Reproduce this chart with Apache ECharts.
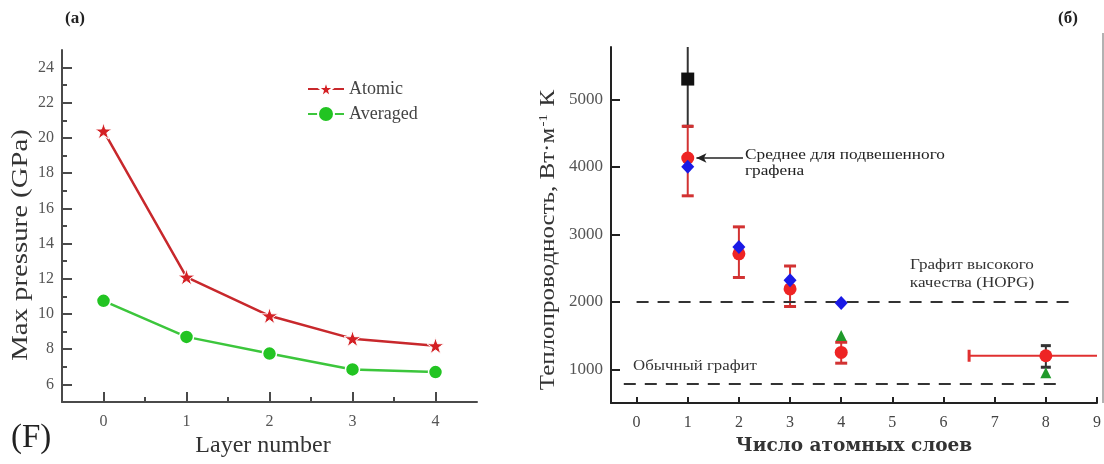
<!DOCTYPE html>
<html><head><meta charset="utf-8">
<script src="https://cdn.jsdelivr.net/npm/echarts@6/dist/echarts.min.js"></script>
<style>html,body{margin:0;padding:0;background:#fff}#c{width:1104px;height:464px}</style>
</head><body><div id="c"></div>
<script>
// ---------- Panel (a) data ----------
const layersA = [0, 1, 2, 3, 4];
const atomic = [20.4, 12.1, 9.9, 8.6, 8.2];
const averaged = [10.75, 8.7, 7.75, 6.85, 6.7];
const aMajorX = [0, 1, 2, 3, 4];
const aMinorX = [0.5, 1.5, 2.5, 3.5];
const aMajorY = [6, 8, 10, 12, 14, 16, 18, 20, 22, 24];
const aMinorY = [7, 9, 11, 13, 15, 17, 19, 21, 23];

// ---------- Panel (б) data ----------
const bTicksX = [0, 1, 2, 3, 4, 5, 6, 7, 8, 9];
const bTicksY = [1000, 2000, 3000, 4000, 5000];
const redX = [1, 2, 3, 4, 8];
const redY = [4130, 2710, 2190, 1250, 1200];
const redLow = [3570, 2360, 1930, 1090];
const redHigh = [4600, 3110, 2530, 1400];
const blueX = [1, 2, 3, 4];
const blueY = [4000, 2810, 2320, 1980];
const blackX = [1];
const blackY = [5300];
const blackErrX = [1, 8];
const blackErrLow = [4600, 1030];
const blackErrHigh = [6000, 1350];
const greenX = [4, 8];
const greenY = [1500, 950];
const redHErrY = [1200];
const redHErrLow = [6.5];
const redHErrHigh = [9.5];
const hopgLine = [0, 8.5, 2000];
const graphiteLine = [-0.25, 8.25, 790];
const arrowSpan = [2.08, 1.17, 4130];

function zip(a, b) { return a.map((v, i) => [v, b[i]]); }

function vErr(color, capW, lw) {
  return function (params, api) {
    const cs = params.coordSys;
    const x = api.value(0), lo = api.value(1), hi = api.value(2);
    const p1 = api.coord([x, lo]), p2 = api.coord([x, hi]);
    const top = cs.y, bot = cs.y + cs.height;
    const y1 = Math.min(Math.max(p1[1], top), bot), y2 = Math.min(Math.max(p2[1], top), bot);
    const ch = [{ type: 'line', shape: { x1: p1[0], y1: y1, x2: p1[0], y2: y2 }, style: { stroke: color, lineWidth: lw } }];
    if (p1[1] >= top && p1[1] <= bot) ch.push({ type: 'line', shape: { x1: p1[0] - capW, y1: p1[1], x2: p1[0] + capW, y2: p1[1] }, style: { stroke: color, lineWidth: lw + 1 } });
    if (p2[1] >= top && p2[1] <= bot) ch.push({ type: 'line', shape: { x1: p2[0] - capW, y1: p2[1], x2: p2[0] + capW, y2: p2[1] }, style: { stroke: color, lineWidth: lw + 1 } });
    return { type: 'group', children: ch };
  };
}
function hErr(color, capW, lw) {
  return function (params, api) {
    const cs = params.coordSys;
    const y = api.value(0), lo = api.value(1), hi = api.value(2);
    const p1 = api.coord([lo, y]), p2 = api.coord([hi, y]);
    const l = cs.x, r = cs.x + cs.width;
    const x1 = Math.min(Math.max(p1[0], l), r), x2 = Math.min(Math.max(p2[0], l), r);
    const ch = [{ type: 'line', shape: { x1: x1, y1: p1[1], x2: x2, y2: p1[1] }, style: { stroke: color, lineWidth: lw } }];
    if (p1[0] >= l && p1[0] <= r) ch.push({ type: 'line', shape: { x1: p1[0], y1: p1[1] - capW, x2: p1[0], y2: p1[1] + capW }, style: { stroke: color, lineWidth: lw + 1 } });
    if (p2[0] >= l && p2[0] <= r) ch.push({ type: 'line', shape: { x1: p2[0], y1: p2[1] - capW, x2: p2[0], y2: p2[1] + capW }, style: { stroke: color, lineWidth: lw + 1 } });
    return { type: 'group', children: ch };
  };
}

const serif = 'Liberation Serif';
const chart = echarts.init(document.getElementById('c'), null, { renderer: 'canvas' });

const axisLineA = { show: true, onZero: false, lineStyle: { color: '#4a4a4a', width: 2 } };
const axisLineB = { show: true, onZero: false, lineStyle: { color: '#222', width: 2 } };
const noLine = { show: false, onZero: false };
const plain = v => String(v);
const STAR = 'path://M50,0 L61.8,35.3 L98.9,35.3 L68.9,57.1 L80.3,92.7 L50,70.7 L19.7,92.7 L31.1,57.1 L1.1,35.3 L38.2,35.3 Z';

chart.setOption({
  animation: false,
  backgroundColor: '#fff',
  grid: [
    { left: 62, top: 50, width: 415, height: 352 },
    { left: 611, top: 47, width: 494, height: 356 }
  ],
  legend: {
    left: 302, top: 75, orient: 'vertical', itemWidth: 36, itemHeight: 20, itemGap: 7,
    textStyle: { fontFamily: serif, fontSize: 18, color: '#444' },
    data: ['Atomic', 'Averaged']
  },
  xAxis: [
    { gridIndex: 0, type: 'value', position: 'bottom', min: -0.5, max: 4.5, axisLine: axisLineA, splitLine: { show: false },
      axisTick: { inside: true, length: 10, customValues: aMajorX, lineStyle: { color: '#4a4a4a', width: 2 } },
      axisLabel: { customValues: aMajorX, formatter: plain, margin: 12, fontFamily: serif, fontSize: 16, color: '#555' } },
    { gridIndex: 0, type: 'value', position: 'bottom', offset: 0, min: -0.5, max: 4.5, axisLine: noLine, splitLine: { show: false },
      axisTick: { inside: true, length: 5, customValues: aMinorX, lineStyle: { color: '#4a4a4a', width: 2 } },
      axisLabel: { show: false } },
    { gridIndex: 1, type: 'value', position: 'bottom', min: -0.5, max: 9, axisLine: axisLineB, splitLine: { show: false },
      axisTick: { inside: true, length: 6, customValues: bTicksX, lineStyle: { color: '#222', width: 2 } },
      axisLabel: { customValues: bTicksX, formatter: plain, margin: 12, fontFamily: serif, fontSize: 16, color: '#444' },
      name: 'Число атомных слоев', nameLocation: 'middle', nameGap: 34,
      nameTextStyle: { fontFamily: 'DejaVu Serif', fontWeight: 'bold', fontSize: 18.5, color: '#333' } }
  ],
  yAxis: [
    { gridIndex: 0, type: 'value', position: 'left', min: 5, max: 25, axisLine: axisLineA, splitLine: { show: false },
      axisTick: { inside: true, length: 10, customValues: aMajorY, lineStyle: { color: '#4a4a4a', width: 2 } },
      axisLabel: { customValues: aMajorY, formatter: plain, margin: 8, fontFamily: serif, fontSize: 16, color: '#555' } },
    { gridIndex: 0, type: 'value', position: 'left', offset: 0, min: 5, max: 25, axisLine: noLine, splitLine: { show: false },
      axisTick: { inside: true, length: 5, customValues: aMinorY, lineStyle: { color: '#4a4a4a', width: 2 } },
      axisLabel: { show: false } },
    { gridIndex: 1, type: 'value', position: 'left', min: 500, max: 5775, axisLine: axisLineB, splitLine: { show: false },
      axisTick: { inside: true, length: 9, customValues: bTicksY, lineStyle: { color: '#222', width: 2 } },
      axisLabel: { customValues: bTicksY, formatter: plain, margin: 8, fontFamily: serif, fontSize: 17, color: '#555' } }
  ],
  series: [
    { name: 'Atomic', type: 'line', xAxisIndex: 0, yAxisIndex: 0, data: zip(layersA, atomic),
      symbol: STAR, symbolSize: 17, symbolKeepAspect: true,
      lineStyle: { color: '#c8282c', width: 2.5 }, itemStyle: { color: '#d42024', borderColor: '#fff', borderWidth: 1, opacity: 1 }, z: 3 },
    { name: 'Averaged', type: 'line', xAxisIndex: 0, yAxisIndex: 0, data: zip(layersA, averaged),
      symbol: 'circle', symbolSize: 14,
      lineStyle: { color: '#3cc63c', width: 2.5 }, itemStyle: { color: '#22c422', borderColor: '#fff', borderWidth: 1.5, opacity: 1 }, z: 3 },

    // panel б : error bars
    { type: 'custom', xAxisIndex: 2, yAxisIndex: 2, renderItem: vErr('#333', 5, 2),
      data: blackErrX.map((x, i) => [x, blackErrLow[i], blackErrHigh[i]]), z: 2, silent: true },
    { type: 'custom', xAxisIndex: 2, yAxisIndex: 2, renderItem: vErr('#d23232', 6, 2),
      data: redLow.map((v, i) => [redX[i], v, redHigh[i]]), z: 3, silent: true },
    { type: 'custom', xAxisIndex: 2, yAxisIndex: 2, renderItem: hErr('#e03030', 6, 2),
      data: redHErrY.map((y, i) => [y, redHErrLow[i], redHErrHigh[i]]), z: 3, silent: true },

    // reference lines + arrow
    { type: 'line', xAxisIndex: 2, yAxisIndex: 2, data: [], silent: true,
      markLine: { silent: true, symbol: 'none', label: { show: false },
        lineStyle: { color: '#333', width: 2, type: [12, 9] },
        data: [
          [{ coord: [hopgLine[0], hopgLine[2]] }, { coord: [hopgLine[1], hopgLine[2]] }],
          [{ coord: [graphiteLine[0], graphiteLine[2]] }, { coord: [graphiteLine[1], graphiteLine[2]] }]
        ] } },
    { type: 'line', xAxisIndex: 2, yAxisIndex: 2, data: [], silent: true,
      markLine: { silent: true, symbol: ['none', 'arrow'], symbolSize: [7, 10], label: { show: false },
        lineStyle: { color: '#222', width: 1.5, type: 'solid' },
        data: [[{ coord: [arrowSpan[0], arrowSpan[2]] }, { coord: [arrowSpan[1], arrowSpan[2]] }]] } },

    // markers
    { type: 'scatter', xAxisIndex: 2, yAxisIndex: 2, data: zip(greenX, greenY), symbol: 'triangle', symbolSize: 11,
      itemStyle: { color: '#1f9a2a', opacity: 1 }, z: 4 },
    { type: 'scatter', xAxisIndex: 2, yAxisIndex: 2, data: zip(redX, redY), symbol: 'circle', symbolSize: 13,
      itemStyle: { color: '#ee2424', opacity: 1 }, z: 5 },
    { type: 'scatter', xAxisIndex: 2, yAxisIndex: 2, data: zip(blueX, blueY), symbol: 'diamond', symbolSize: [13, 14],
      itemStyle: { color: '#1a1ae6', opacity: 1 }, z: 6 },
    { type: 'scatter', xAxisIndex: 2, yAxisIndex: 2, data: zip(blackX, blackY), symbol: 'rect', symbolSize: 13,
      itemStyle: { color: '#111', borderRadius: 2, opacity: 1 }, z: 6 }
  ],
  graphic: [
    { type: 'text', left: 65, top: 10, style: { text: '(a)', fontFamily: serif, fontSize: 17, fontWeight: 'bold', fill: '#222' } },
    { type: 'text', left: 11, top: 422, style: { text: '(F)', fontFamily: serif, fontSize: 33, fill: '#222' } },
    { type: 'text', left: 1058, top: 10, style: { text: '(б)', fontFamily: serif, fontSize: 17, fontWeight: 'bold', fill: '#222' } },
    { type: 'text', x: 21, y: 245, rotation: Math.PI / 2, scaleX: 1.25,
      style: { text: 'Max pressure (GPa)', fontFamily: serif, fontSize: 23, fill: '#333', align: 'center', verticalAlign: 'middle' } },
    { type: 'text', x: 263, y: 446,
      style: { text: 'Layer number', fontFamily: serif, fontSize: 24, fill: '#333', align: 'center', verticalAlign: 'middle' } },
    { type: 'text', x: 549, y: 240, rotation: Math.PI / 2, scaleX: 1.25,
      style: { text: '{a|Теплопроводность, Вт·м}{s|-1}{a| К}', align: 'center', verticalAlign: 'middle',
        rich: { a: { fontFamily: serif, fontSize: 20, fill: '#333', lineHeight: 22 },
                s: { fontFamily: serif, fontSize: 12, fill: '#333', verticalAlign: 'top', lineHeight: 22, padding: [0, 1, 8, 1] } } } },
    { type: 'text', x: 745, y: 147, scaleX: 1.15, style: { text: 'Среднее для подвешенного\nграфена', fontFamily: serif, fontSize: 15, lineHeight: 16, fill: '#222' } },
    { type: 'text', x: 972, y: 256, scaleX: 1.14, style: { text: 'Графит высокого\nкачества (HOPG)', fontFamily: serif, fontSize: 15, lineHeight: 18, fill: '#333', align: 'center' } },
    { type: 'text', x: 633, y: 359, scaleX: 1.2, style: { text: 'Обычный графит', fontFamily: serif, fontSize: 14, fill: '#333' } },
    { type: 'line', shape: { x1: 1103, y1: 33, x2: 1103, y2: 403 }, style: { stroke: '#999', lineWidth: 1.5 } }
  ]
});
</script></body></html>
